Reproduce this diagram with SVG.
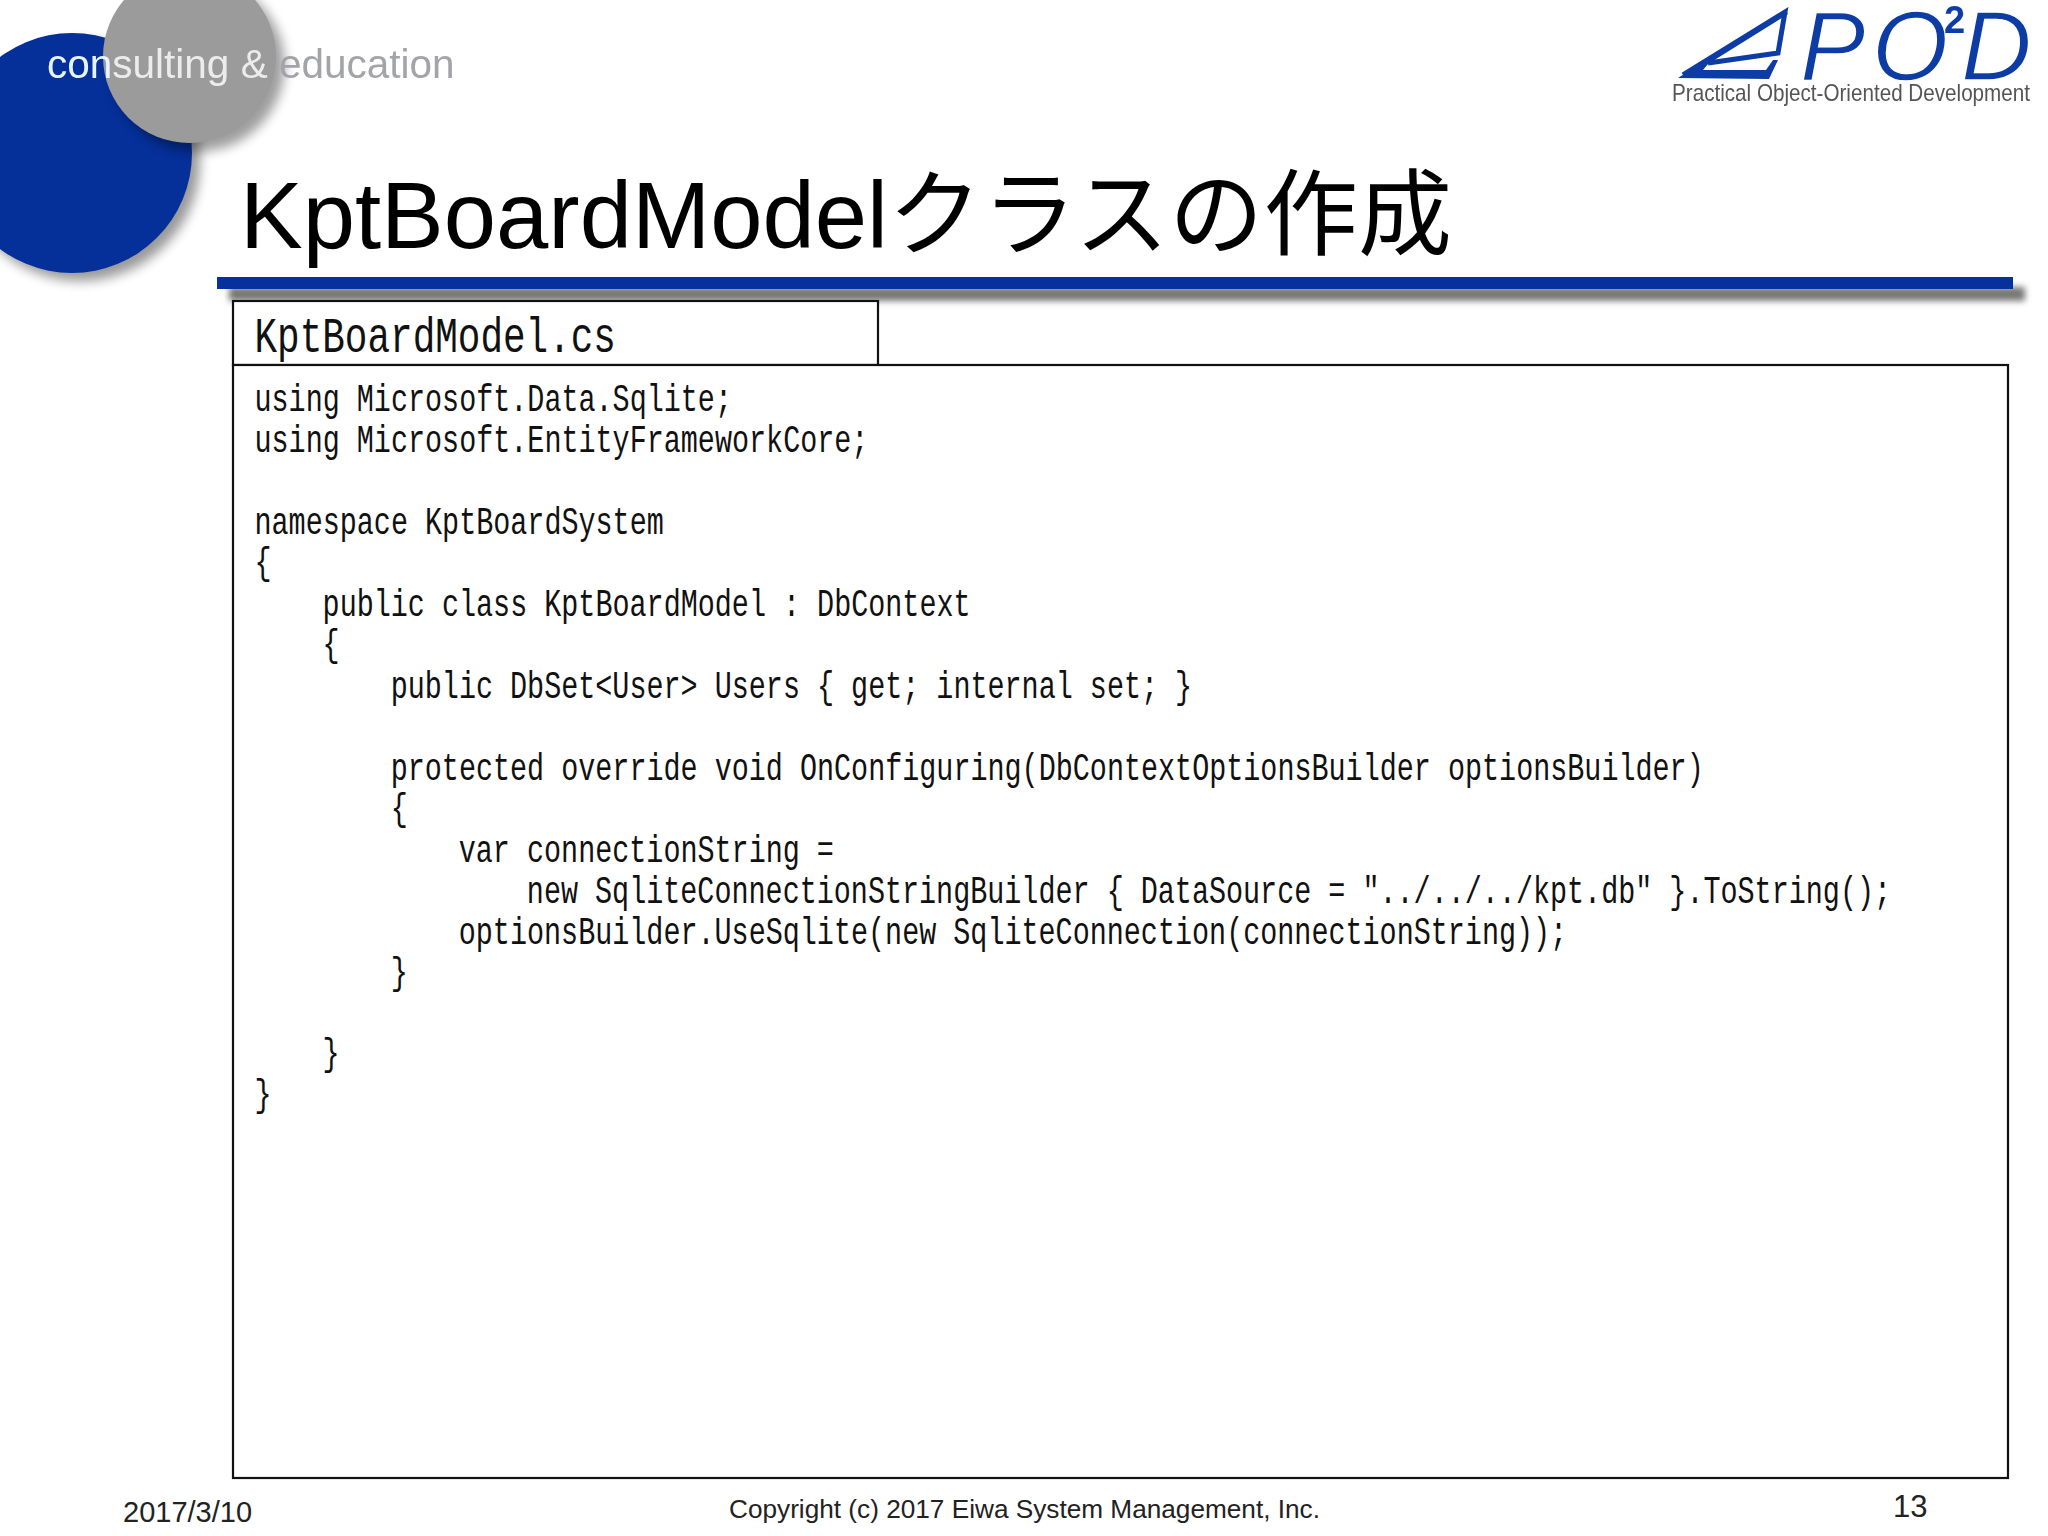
<svg xmlns="http://www.w3.org/2000/svg" width="2048" height="1536" viewBox="0 0 2048 1536">
<style>
.code{font-family:"Liberation Mono",monospace;font-size:39px;fill:#111}
.foot{font-family:"Liberation Sans",Arial,sans-serif;fill:#222}
.box{fill:#fff;stroke:#111;stroke-width:2.2}
.mark{fill:none;stroke:#0a3ca4;stroke-linejoin:miter}
</style>
<defs>
<filter id="b6" x="-30%" y="-30%" width="160%" height="160%"><feGaussianBlur stdDeviation="6"/></filter>
<filter id="b3" x="-5%" y="-200%" width="110%" height="500%"><feGaussianBlur stdDeviation="3"/></filter>
<filter id="s" x="-5%" y="-5%" width="110%" height="110%"><feGaussianBlur stdDeviation="0.7"/></filter>
</defs>
<rect width="2048" height="1536" fill="#fff"/>
<g id="circles">
<circle cx="80" cy="161" r="120" fill="#000" opacity=".4" filter="url(#b6)"/>
<circle cx="72" cy="153" r="120" fill="#05309a"/>
<circle cx="198" cy="65" r="86.5" fill="#000" opacity=".38" filter="url(#b6)"/>
<circle cx="189.5" cy="56.5" r="86.5" fill="#9b9b9b"/>
</g>
<text id="tagline" x="47" y="78" font-family="Liberation Sans, Arial, sans-serif" font-size="40.5" filter="url(#s)"><tspan fill="#e6f4ff">con</tspan><tspan fill="#ececec">sulting &amp; </tspan><tspan fill="#a3a3aa">education</tspan></text>
<g id="pod-logo" filter="url(#s)">
<path class="mark" stroke-width="5" d="M1683 75L1785 12L1778 53L1708 63"/>
<path d="M1678 78L1785 10L1788 14L1708 64L1703 70L1766 70L1773 60L1778 60L1769 79Z" fill="#0a3ca4"/>
<text y="80" font-family="Liberation Sans, Arial, sans-serif" fill="#0a3ca4" stroke="#fff" stroke-width="1.4" font-size="98" font-style="italic"><tspan x="1800">P</tspan><tspan x="1872">O</tspan><tspan x="1944" y="33" font-size="38" font-style="normal" font-weight="bold" stroke="none">2</tspan><tspan x="1961" y="80">D</tspan></text>
<text x="1672" y="101" font-family="Liberation Sans, Arial, sans-serif" font-size="24" fill="#555" textLength="358" lengthAdjust="spacingAndGlyphs">Practical Object-Oriented Development</text>
</g>
<text id="title" x="240" y="248" font-family="Liberation Sans, Noto Sans CJK JP, sans-serif" font-size="94" fill="#000">KptBoardModel<tspan letter-spacing="0.4">クラスの作成</tspan></text>
<g id="title-rule">
<rect x="229" y="287" width="1796" height="14" fill="#777" filter="url(#b3)"/>
<rect x="217" y="277" width="1796" height="12" fill="#06309c"/>
</g>
<g id="tab">
<rect class="box" x="233" y="301" width="645" height="64"/>
<g transform="translate(254.5 352) scale(.753 1)"><text x="0" y="0" font-family="Liberation Mono, monospace" font-size="50" fill="#111">KptBoardModel.cs</text></g>
</g>
<g id="code-box">
<rect class="box" x="233" y="365" width="1775" height="1113"/>
<g transform="translate(254.5 0) scale(.729 1)">
<text class="code" x="0" y="411">using Microsoft.Data.Sqlite;</text>
<text class="code" x="0" y="452">using Microsoft.EntityFrameworkCore;</text>
<text class="code" x="0" y="534">namespace KptBoardSystem</text>
<text class="code" x="0" y="574">{</text>
<text class="code" x="93.4" y="616">public class KptBoardModel : DbContext</text>
<text class="code" x="93.4" y="656">{</text>
<text class="code" x="186.8" y="698">public DbSet&lt;User&gt; Users { get; internal set; }</text>
<text class="code" x="186.8" y="780">protected override void OnConfiguring(DbContextOptionsBuilder optionsBuilder)</text>
<text class="code" x="186.8" y="820">{</text>
<text class="code" x="280.2" y="862">var connectionString =</text>
<text class="code" x="373.6" y="903">new SqliteConnectionStringBuilder { DataSource = "../../../kpt.db" }.ToString();</text>
<text class="code" x="280.2" y="944">optionsBuilder.UseSqlite(new SqliteConnection(connectionString));</text>
<text class="code" x="186.8" y="984">}</text>
<text class="code" x="93.4" y="1065">}</text>
<text class="code" x="0" y="1106">}</text>
</g>
</g>
<g id="footer">
<text class="foot" x="123" y="1522" font-size="29">2017/3/10</text>
<text class="foot" x="729" y="1518" font-size="26.2">Copyright (c) 2017 Eiwa System Management, Inc.</text>
<text class="foot" x="1893" y="1517" font-size="31">13</text>
</g>
</svg>
